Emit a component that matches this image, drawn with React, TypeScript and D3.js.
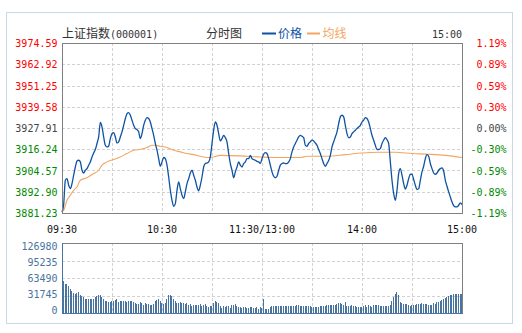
import React from "react";
import * as d3 from "d3";

const prevClose = 3927.91;
const priceTicks = [3974.59, 3962.92, 3951.25, 3939.58, 3927.91, 3916.24, 3904.57, 3892.9, 3881.23];
const pctTicks = ["1.19%", "0.89%", "0.59%", "0.30%", "0.00%", "-0.30%", "-0.59%", "-0.89%", "-1.19%"];
const timeTickMinutes = [0, 60, 120, 180, 240];
const timeTickLabels = ["09:30", "10:30", "11:30/13:00", "14:00", "15:00"];
const volTicks = [126980, 95235, 63490, 31745, 0];
const volTickLabels = ["126980", "95235", "63490", "31745", "0"];

const priceMinute = [
  0, 1, 2, 3, 4, 5, 6, 7, 8, 9, 10, 11, 12, 13, 14, 15, 16, 17, 18, 19,
  20, 21, 22, 23, 24, 25, 26, 27, 28, 29, 30, 31, 32, 33, 34, 35, 36, 37, 38, 39,
  40, 41, 42, 43, 44, 45, 46, 47, 48, 49, 50, 51, 52, 53, 54, 55, 56, 57, 58, 59,
  60, 61, 62, 63, 64, 65, 66, 67, 68, 69, 70, 71, 72, 73, 74, 75, 76, 77, 78, 79,
  80, 81, 82, 83, 84, 85, 86, 87, 88, 89, 90, 91, 92, 93, 94, 95, 96, 97, 98, 99,
  100, 101, 102, 103, 104, 105, 106, 107, 108, 109, 110, 111, 112, 113, 114, 115, 116, 117, 118, 119,
  120, 121, 122, 123, 124, 125, 126, 127, 128, 129, 130, 131, 132, 133, 134, 135, 136, 137, 138, 139,
  140, 141, 142, 143, 144, 145, 146, 147, 148, 149, 150, 151, 152, 153, 154, 155, 156, 157, 158, 159,
  160, 161, 162, 163, 164, 165, 166, 167, 168, 169, 170, 171, 172, 173, 174, 175, 176, 177, 178, 179,
  180, 181, 182, 183, 184, 185, 186, 187, 188, 189, 190, 191, 192, 193, 194, 195, 196, 197, 198, 199,
  200, 201, 202, 203, 204, 205, 206, 207, 208, 209, 210, 211, 212, 213, 214, 215, 216, 217, 218, 219,
  220, 221, 222, 223, 224, 225, 226, 227, 228, 229, 230, 231, 232, 233, 234, 235, 236, 237, 238, 239,
  240,
];
const priceValue = [
  3881.8, 3886.0, 3899.2, 3900.1, 3896.5, 3894.6, 3897.4, 3902.0, 3906.5, 3909.8,
  3910.2, 3909.3, 3904.7, 3903.2, 3904.7, 3905.6, 3907.5, 3909.3, 3912.0, 3914.2,
  3916.1, 3919.4, 3923.0, 3931.0, 3928.5, 3923.0, 3918.4, 3917.5, 3917.9, 3922.1,
  3924.8, 3925.4, 3923.0, 3919.7, 3920.3, 3923.0, 3925.8, 3929.4, 3933.1, 3935.8,
  3936.4, 3934.9, 3932.2, 3929.4, 3927.6, 3927.0, 3925.8, 3922.1, 3924.8, 3929.4,
  3932.2, 3933.6, 3933.1, 3931.2, 3927.6, 3923.9, 3919.4, 3915.7, 3911.1, 3906.9,
  3909.3, 3911.7, 3911.1, 3907.5, 3901.0, 3893.7, 3888.2, 3884.9, 3886.4, 3893.7,
  3898.3, 3894.6, 3891.0, 3889.1, 3892.8, 3897.4, 3900.1, 3903.2, 3904.7, 3902.0,
  3899.2, 3895.5, 3893.4, 3896.5, 3901.0, 3906.5, 3908.4, 3908.7, 3909.3, 3912.0,
  3919.4, 3926.7, 3931.2, 3929.4, 3924.8, 3920.8, 3922.1, 3923.9, 3922.6, 3920.3,
  3913.9, 3908.4, 3904.7, 3900.6, 3903.8, 3906.5, 3909.3, 3907.5, 3906.5, 3908.4,
  3909.3, 3911.1, 3911.1, 3912.9, 3911.1, 3910.6, 3910.2, 3909.6, 3909.3, 3908.4,
  3911.1, 3913.5, 3914.4, 3913.9, 3911.1, 3907.5, 3903.8, 3901.4, 3900.6, 3901.4,
  3904.7, 3907.5, 3908.4, 3908.7, 3908.4, 3908.4, 3909.3, 3911.1, 3914.8, 3917.5,
  3919.4, 3921.2, 3923.0, 3923.9, 3923.4, 3922.6, 3918.4, 3917.9, 3919.4, 3920.3,
  3921.2, 3920.8, 3919.7, 3918.4, 3916.1, 3913.9, 3911.1, 3908.4, 3906.9, 3908.4,
  3910.0, 3912.9, 3917.5, 3920.3, 3923.0, 3925.8, 3930.3, 3934.0, 3934.9, 3934.0,
  3929.4, 3924.8, 3922.6, 3923.0, 3924.8, 3925.8, 3926.7, 3927.6, 3928.5, 3929.4,
  3931.2, 3932.2, 3933.6, 3933.1, 3931.2, 3927.6, 3923.9, 3921.2, 3918.4, 3916.1,
  3916.1, 3916.6, 3919.4, 3921.2, 3922.6, 3921.5, 3919.4, 3909.3, 3899.2, 3891.9,
  3888.2, 3893.7, 3902.9, 3905.6, 3902.0, 3897.4, 3894.4, 3896.5, 3900.1, 3902.5,
  3902.5, 3899.6, 3896.5, 3894.1, 3894.6, 3899.2, 3903.8, 3906.9, 3911.1, 3913.3,
  3912.4, 3908.4, 3905.6, 3903.2, 3902.5, 3903.2, 3904.7, 3905.6, 3906.0, 3904.3,
  3899.2, 3895.9, 3892.8, 3890.0, 3887.3, 3885.3, 3884.6, 3884.6, 3885.5, 3886.8,
  3885.8,
];

const avgMinute = [0, 1, 3, 5, 7, 9, 11, 15, 19, 22, 24, 27, 31, 35, 39, 43, 47, 51, 54, 56, 59, 63, 67, 71, 75, 79, 85, 89, 95, 107, 119, 128, 143, 147, 159, 170, 180, 190, 200, 210, 220, 230, 240];
const avgValue = [3881.8, 3882.7, 3888.2, 3891.0, 3893.7, 3895.5, 3899.2, 3900.6, 3902.9, 3904.7, 3907.5, 3909.3, 3910.6, 3912.0, 3913.9, 3915.7, 3916.2, 3917.2, 3918.4, 3918.4, 3917.9, 3917.2, 3915.7, 3914.8, 3913.9, 3913.3, 3912.0, 3911.7, 3912.9, 3912.6, 3912.0, 3911.7, 3911.7, 3912.4, 3912.4, 3913.3, 3914.2, 3914.6, 3914.6, 3913.9, 3913.5, 3912.9, 3911.7];

const volumeMorning1 = [
  57480, 53240, 53240, 49610, 44170, 40540, 36300, 35090, 36300, 38120,
  33280, 30250, 28440, 26020, 26020, 26020, 26020, 26020, 26020, 29040,
  30250, 32070, 32070, 29040, 26020, 22390, 21180, 19360, 19360, 21180,
  22390, 24200, 25410, 19360, 21180, 22390, 22390, 21180, 19970, 22390,
  22390, 21180, 19970, 18150, 16940, 16940, 19970, 18150, 15130, 18150,
  16340, 16340, 15130, 15130, 16340, 21180, 24200, 26020, 21180, 18150,
  16340, 18150, 26020, 32070, 33280, 30250, 26020, 21180, 18150, 18150,
  19360, 18150, 18150, 16340, 18150, 15130, 16340, 12100, 15130,
];
const volumeMorning2 = [
  15130, 15130, 13920, 16340, 12100, 13920, 16940, 13310, 10890, 13310,
  12100, 18150, 22390, 19360, 18150, 13310, 9080, 12100, 10290, 12100,
  12100, 9080, 13920, 15130, 16940, 13310, 10890, 10290, 9080,
  10290, 10290, 9080, 9080, 10290, 10890, 9080, 9080, 11500, 7870,
  10290, 9080, 26020, 7870, 7870, 7870, 10290, 13310, 12100, 12100,
  12100, 12100, 13310, 13310, 12100, 12100, 13310, 12100, 13310, 12100,
  13310, 13310, 13920, 13920, 13310, 13310, 12100, 12100, 13310, 12100,
  12100, 10890, 10890, 10890, 10890, 10890, 12100, 12100, 12100, 13310, 13920,
];
const volumeAfternoon = [
  15130, 15130, 15130, 15130, 15130, 16340, 18150, 18150, 16340, 15130,
  19970, 13310, 13310, 13310, 15130, 13310, 12100, 10890, 10890, 10890,
  10890, 12100, 13920, 10890, 13920, 12100, 10890, 13920, 15130, 15130,
  13920, 13310, 13310, 12100, 12100, 13310, 12100, 15130, 21180, 29040,
  35090, 37510, 33280, 19970, 18150, 16940, 16940, 16940, 15130, 13310,
  13920, 15130, 15130, 16340, 16340, 16340, 18150, 16940, 16940, 16940,
  15130, 15130, 15130, 18150, 16940, 19360, 19360, 21180, 22990, 25410,
  27230, 29040, 30250, 32070, 33280, 35090, 35090, 35090, 35090, 35090, 35090,
];
const volume = [...volumeMorning1, ...volumeMorning2, ...volumeAfternoon];

const MONO = "'DejaVu Sans Mono', monospace";
const CJK = "'Noto Sans CJK SC', 'Noto Sans', sans-serif";
const RED = "#ff0000";
const GREEN = "#008a00";
const NEUTRAL = "#444444";
const BLUE = "#0d52a3";
const ORANGE = "#f2a661";
const VOLBLUE = "#4a74a0";
const GRID = "#d2d2d2";

export default function App() {
  const W = 522, H = 333;
  const L = 62, R = 462, T = 43, B = 213, VT = 243, VB = 313;

  const x = d3.scaleLinear().domain([0, 240]).range([L, R]);
  const y = d3.scaleLinear().domain([priceTicks[8], priceTicks[0]]).range([B, T]);
  const yv = d3.scaleLinear().domain([0, volTicks[0]]).range([VB, VT]);

  const pricePts: [number, number][] = priceMinute.map((m, i) => [m, priceValue[i]]);
  const avgPts: [number, number][] = avgMinute.map((m, i) => [m, avgValue[i]]);
  const line = d3
    .line<[number, number]>()
    .x((d) => x(d[0]))
    .y((d) => y(d[1]))
    .curve(d3.curveMonotoneX);

  const gridMinutes = d3.range(30, 240, 30);
  const px = (v: number) => Math.round(v) + 0.5;
  const colorFor = (v: number) =>
    Math.abs(v - prevClose) < 0.001 ? NEUTRAL : v > prevClose ? RED : GREEN;

  return (
    <svg
      width={W}
      height={H}
      style={{ position: "absolute", left: 0, top: 0, background: "#fff" }}
    >
      <rect x={6.5} y={12.5} width={506} height={311} fill="#fff" stroke="#c9d6e8" />

      {/* header */}
      <text x={62} y={38} fontFamily={CJK} fontSize={12} fill="#333">
        上证指数
      </text>
      <text x={110} y={38} fontFamily={MONO} fontSize={10} fill="#333">
        (000001)
      </text>
      <text x={206} y={38} fontFamily={CJK} fontSize={12} fill="#333">
        分时图
      </text>
      <line x1={262} x2={276} y1={33.5} y2={33.5} stroke={BLUE} strokeWidth={2} />
      <text x={278} y={38} fontFamily={CJK} fontSize={12} fill={BLUE}>
        价格
      </text>
      <line x1={307} x2={320} y1={33.5} y2={33.5} stroke={ORANGE} strokeWidth={2} />
      <text x={322.5} y={38} fontFamily={CJK} fontSize={12} fill={ORANGE}>
        均线
      </text>
      <text x={462} y={38} textAnchor="end" fontFamily={MONO} fontSize={10} fill="#333">
        {timeTickLabels[4]}
      </text>

      {/* main grid */}
      <g stroke={GRID} strokeDasharray="3,2" shapeRendering="crispEdges">
        {priceTicks.slice(1, -1).map((v, i) => (
          <line key={"h" + i} x1={L} x2={R} y1={px(y(v))} y2={px(y(v))} />
        ))}
        {gridMinutes.map((m) => (
          <line key={"v" + m} x1={px(x(m))} x2={px(x(m))} y1={T} y2={B} />
        ))}
      </g>

      {/* avg line & price line */}
      <path d={line(avgPts) || ""} fill="none" stroke={ORANGE} strokeWidth={1.1} />
      <path d={line(pricePts) || ""} fill="none" stroke={BLUE} strokeWidth={1.3} />

      <rect x={L + 0.5} y={T + 0.5} width={R - L} height={B - T} fill="none" stroke="#808080" shapeRendering="crispEdges" />

      {/* left / right labels */}
      {priceTicks.map((v, i) => (
        <text key={"pl" + i} x={57.5} y={y(v) + 4} textAnchor="end" fontFamily={MONO} fontSize={10} fill={colorFor(v)}>
          {v.toFixed(2)}
        </text>
      ))}
      {priceTicks.map((v, i) => (
        <text key={"pr" + i} x={506.5} y={y(v) + 4} textAnchor="end" fontFamily={MONO} fontSize={10} fill={colorFor(v)}>
          {pctTicks[i]}
        </text>
      ))}

      {/* time labels */}
      {timeTickMinutes.map((m, i) => (
        <text key={"t" + i} x={x(m)} y={233} textAnchor="middle" fontFamily={MONO} fontSize={10} fill="#111">
          {timeTickLabels[i]}
        </text>
      ))}

      {/* volume grid */}
      <g stroke={GRID} strokeDasharray="3,2" shapeRendering="crispEdges">
        {volTicks.slice(1, -1).map((v, i) => (
          <line key={"vh" + i} x1={L} x2={R} y1={px(yv(v))} y2={px(yv(v))} />
        ))}
        {gridMinutes.map((m) => (
          <line key={"vv" + m} x1={px(x(m))} x2={px(x(m))} y1={VT} y2={VB} />
        ))}
      </g>

      {/* volume bars */}
      <g fill={VOLBLUE} shapeRendering="crispEdges">
        {volume.map((v, i) => (
          <rect key={"b" + i} x={Math.round(x(i) + 1)} y={yv(v)} width={1} height={VB - yv(v)} />
        ))}
      </g>

      <g shapeRendering="crispEdges">
        <line x1={L} x2={R + 1} y1={VT + 0.5} y2={VT + 0.5} stroke="#808080" />
        <line x1={R + 0.5} x2={R + 0.5} y1={VT} y2={VB + 1} stroke="#808080" />
        <line x1={L + 0.5} x2={L + 0.5} y1={VT} y2={VB + 1} stroke={VOLBLUE} />
        <line x1={L} x2={R + 1} y1={VB + 0.5} y2={VB + 0.5} stroke={VOLBLUE} />
      </g>

      {volTicks.map((v, i) => (
        <text key={"vl" + i} x={57.5} y={249.5 + i * 16} textAnchor="end" fontFamily={MONO} fontSize={10} fill={VOLBLUE}>
          {volTickLabels[i]}
        </text>
      ))}
    </svg>
  );
}
